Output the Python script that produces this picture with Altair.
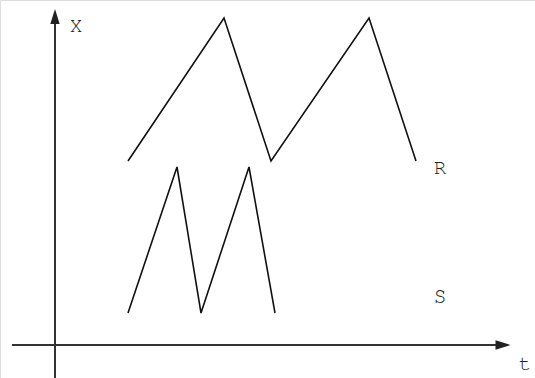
import altair as alt
import pandas as pd

# Curve R: sawtooth, slow rise and faster fall
r_t = [73, 169, 216, 314, 361]
r_x = [184, 327, 184, 327, 184]

# Curve S: narrower, steeper spikes
s_t = [73, 122, 146, 194, 220]
s_x = [32, 178, 32, 178, 32]

labels = ["X", "t", "R", "S"]
label_t = [21, 470, 385, 385]
label_x = [319, -19, 177, 48]

T_DOMAIN = [-55, 480]
X_DOMAIN = [-33, 345]

xs = alt.Scale(domain=T_DOMAIN, nice=False, zero=False)
ys = alt.Scale(domain=X_DOMAIN, nice=False, zero=False)

curves = pd.DataFrame(
    {
        "t": r_t + s_t,
        "x": r_x + s_x,
        "curve": ["R"] * len(r_t) + ["S"] * len(s_t),
        "order": list(range(len(r_t))) + list(range(len(s_t))),
    }
)

lines = (
    alt.Chart(curves)
    .mark_line(color="#111111", strokeWidth=1.6)
    .encode(
        x=alt.X("t:Q", scale=xs, axis=None),
        y=alt.Y("x:Q", scale=ys, axis=None),
        detail="curve:N",
        order="order:Q",
    )
)

# Coordinate axes as rules through the origin
axes_df = pd.DataFrame(
    {"t": [-43, 0], "t2": [445, 0], "x": [0, -33], "x2": [0, 322]}
)
axes = (
    alt.Chart(axes_df)
    .mark_rule(color="#333333", strokeWidth=2)
    .encode(
        x=alt.X("t:Q", scale=xs, axis=None),
        x2="t2:Q",
        y=alt.Y("x:Q", scale=ys, axis=None),
        y2="x2:Q",
    )
)

arrow_path = "M0,-1L0.62,1L-0.62,1Z"
heads_df = pd.DataFrame({"t": [0, 448], "x": [328.5, 0], "angle": [0, 90]})
heads = (
    alt.Chart(heads_df)
    .mark_point(shape=arrow_path, filled=True, color="#222222", size=225, opacity=1)
    .encode(
        x=alt.X("t:Q", scale=xs, axis=None),
        y=alt.Y("x:Q", scale=ys, axis=None),
        angle=alt.Angle("angle:Q", scale=None),
    )
)

text_df = pd.DataFrame({"label": labels, "t": label_t, "x": label_x})
texts = (
    alt.Chart(text_df)
    .mark_text(
        font="Nimbus Mono PS, FreeMono, Courier, Liberation Mono, monospace",
        fontSize=21,
        color="#222222",
    )
    .encode(
        x=alt.X("t:Q", scale=xs, axis=None),
        y=alt.Y("x:Q", scale=ys, axis=None),
        text="label:N",
    )
)

chart = (
    alt.layer(axes, heads, lines, texts)
    .properties(width=535, height=378, padding=0, autosize=alt.AutoSizeParams(type="none"))
    .configure_view(stroke=None)
    .configure(background="white")
)

chart.save("out.html", embed_options={"renderer": "svg", "actions": False})
